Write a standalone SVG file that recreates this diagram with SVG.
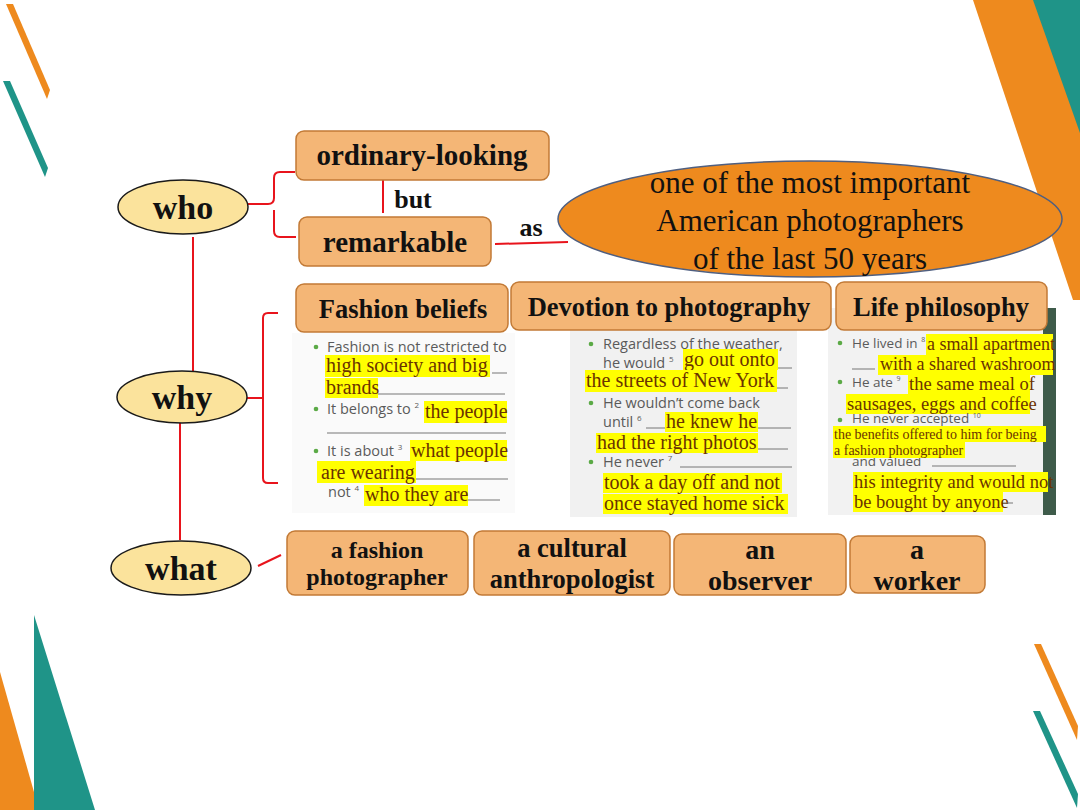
<svg xmlns="http://www.w3.org/2000/svg" width="1080" height="810" viewBox="0 0 1080 810">
<style>
.box{fill:#F4B676;stroke:#C27A36;stroke-width:1.5}
.oval{fill:#FBE39C;stroke:#1a1a1a;stroke-width:1.5}
.bt{font-family:"Liberation Serif",serif;font-weight:bold;fill:#111;text-anchor:middle}
.conn{fill:none;stroke:#E8141C;stroke-width:2}
.ws{font-family:"Open Sans","Noto Sans",sans-serif;font-size:14.5px;fill:#5a5a5a}
.ws2{font-family:"Open Sans","Noto Sans",sans-serif;font-size:13.5px;fill:#5a5a5a}
.hl{fill:#FFFF00}
.ht{font-family:"Liberation Serif",serif;font-size:20px;fill:#6A3300}
.ul{stroke:#777;stroke-width:1}
.dot{fill:#5BAA46}
</style>
<rect width="1080" height="810" fill="#fff"/>
<g id="decor">
<polygon points="6,4 13,4 50,90 47,99" fill="#EE8A1E"/>
<polygon points="3,81 10,81 48,168 45,177" fill="#1F9488"/>
<polygon points="973,0 1080,0 1080,300 1073,300" fill="#EE8A1E"/>
<polygon points="1033,0 1080,0 1080,133" fill="#1F9488"/>
<polygon points="0,672 34,792 34,810 0,810" fill="#EE8A1E"/>
<polygon points="34,615 95,810 34,810" fill="#1F9488"/>
<polygon points="1034,644 1041,644 1078,726 1077,740" fill="#EE8A1E"/>
<polygon points="1033,711 1040,711 1078,794 1077,808" fill="#1F9488"/>
</g>
<g id="connectors">
<path class="conn" d="M193,237 V372"/>
<path class="conn" d="M180,423 V540"/>
<path class="conn" d="M248,204 H268 Q274,204 274,198 V178 Q274,172 280,172 H295 M274,210 V231 Q274,237 280,237 H296"/>
<path class="conn" d="M240,398 H262 M278,313 H268 Q263,313 263,318 V478 Q263,483 268,483 H278"/>
<path class="conn" d="M383,180 V213"/>
<path class="conn" d="M495,244 L568,242"/>
<path class="conn" d="M258,566 L281,555"/>
</g>
<g id="label-but"><text class="bt" x="413" y="208" font-size="26">but</text></g>
<g id="label-as"><text class="bt" x="531" y="236" font-size="26">as</text></g>
<g id="who"><ellipse class="oval" cx="183" cy="207" rx="65" ry="27"/><text class="bt" x="183" y="219" font-size="34">who</text></g>
<g id="why"><ellipse class="oval" cx="182" cy="397" rx="65" ry="26"/><text class="bt" x="182" y="409" font-size="34">why</text></g>
<g id="what"><ellipse class="oval" cx="181" cy="568" rx="70" ry="27"/><text class="bt" x="181" y="580" font-size="34">what</text></g>
<g id="ordinary"><rect class="box" x="296" y="131" width="253" height="49" rx="8"/><text class="bt" x="422" y="165" font-size="29">ordinary-looking</text></g>
<g id="remarkable"><rect class="box" x="299" y="217" width="192" height="49" rx="8"/><text class="bt" x="395" y="252" font-size="29">remarkable</text></g>
<g id="photographers"><ellipse cx="810" cy="219" rx="252" ry="58" fill="#EE8A1E" stroke="#4F5F80" stroke-width="1.5"/>
<text font-family="Liberation Serif,serif" font-size="31" fill="#111" text-anchor="middle"><tspan x="810" y="193">one of the most important</tspan><tspan x="810" y="231">American photographers</tspan><tspan x="810" y="269">of the last 50 years</tspan></text></g>
<g id="panel-fashion">
<rect x="292" y="333" width="223" height="180" fill="#FAFAFA"/>
<circle class="dot" cx="316" cy="347" r="2.3"/><text class="ws" x="327" y="352">Fashion is not restricted to</text>
<rect class="hl" x="325" y="355" width="165" height="22"/><text class="ht" x="326" y="372">high society and big</text>
<line class="ul" x1="492" y1="373" x2="507" y2="373"/>
<rect class="hl" x="325" y="378" width="53" height="20"/><text class="ht" x="326" y="394">brands</text>
<line class="ul" x1="378" y1="394" x2="505" y2="394"/>
<circle class="dot" cx="316" cy="409" r="2.3"/><text class="ws" x="327" y="414">It belongs to <tspan style="font-size:8px" dy="-6">2</tspan></text>
<rect class="hl" x="424" y="401" width="83" height="22"/><text class="ht" x="425" y="418">the people</text>
<line class="ul" x1="327" y1="433" x2="506" y2="433"/>
<circle class="dot" cx="316" cy="451" r="2.3"/><text class="ws" x="327" y="456">It is about <tspan style="font-size:8px" dy="-6">3</tspan></text>
<rect class="hl" x="410" y="440" width="97" height="21"/><text class="ht" x="411" y="457">what people</text>
<rect class="hl" x="317" y="461" width="99" height="22"/><text class="ht" x="321" y="479">are wearing</text>
<line class="ul" x1="416" y1="479" x2="508" y2="479"/>
<text class="ws" x="328" y="497">not <tspan style="font-size:8px" dy="-6">4</tspan></text>
<rect class="hl" x="364" y="485" width="104" height="21"/><text class="ht" x="365" y="501">who they are</text>
<line class="ul" x1="468" y1="500" x2="500" y2="500"/>
</g>
<g id="panel-devotion">
<rect x="570" y="330" width="227" height="187" fill="#F1F1F1"/>
<circle class="dot" cx="591" cy="344" r="2.3"/><text class="ws" x="603" y="349">Regardless of the weather,</text>
<text class="ws" x="603" y="368">he would <tspan style="font-size:8px" dy="-6">5</tspan></text>
<rect class="hl" x="683" y="349" width="95" height="21"/><text class="ht" x="684" y="366">go out onto</text>
<line class="ul" x1="778" y1="368" x2="792" y2="368"/>
<rect class="hl" x="585" y="370" width="192" height="22"/><text class="ht" x="586" y="387">the streets of New York</text>
<line class="ul" x1="777" y1="388" x2="788" y2="388"/>
<circle class="dot" cx="591" cy="403" r="2.3"/><text class="ws" x="603" y="408">He wouldn’t come back</text>
<text class="ws" x="603" y="427">until <tspan style="font-size:8px" dy="-6">6</tspan></text>
<line class="ul" x1="646" y1="428" x2="665" y2="428"/>
<rect class="hl" x="665" y="412" width="93" height="20"/><text class="ht" x="666" y="428">he knew he</text>
<line class="ul" x1="758" y1="428" x2="791" y2="428"/>
<rect class="hl" x="596" y="433" width="162" height="20"/><text class="ht" x="597" y="449">had the right photos</text>
<line class="ul" x1="758" y1="449" x2="788" y2="449"/>
<circle class="dot" cx="591" cy="462" r="2.3"/><text class="ws" x="603" y="467">He never <tspan style="font-size:8px" dy="-6">7</tspan></text>
<line class="ul" x1="680" y1="467" x2="792" y2="467"/>
<rect class="hl" x="603" y="473" width="179" height="20"/><text class="ht" x="604" y="489">took a day off and not</text>
<rect class="hl" x="603" y="494" width="185" height="20"/><text class="ht" x="604" y="510">once stayed home sick</text>
</g>
<g id="panel-life">
<rect x="828" y="308" width="228" height="207" fill="#F2F2F2"/>
<rect x="1043" y="308" width="13" height="207" fill="#3E5B4A"/>
<circle class="dot" cx="840" cy="343" r="2.3"/><text class="ws2" x="852" y="348">He lived in <tspan style="font-size:7px" dy="-6">8</tspan></text>
<rect class="hl" x="926" y="334" width="127" height="21"/><text class="ht" x="927" y="350" style="font-size:18px">a small apartment</text>
<line class="ul" x1="852" y1="369" x2="875" y2="369"/>
<rect class="hl" x="878" y="355" width="175" height="20"/><text class="ht" x="880" y="370" style="font-size:18px">with a shared washroom</text>
<circle class="dot" cx="840" cy="382" r="2.3"/><text class="ws2" x="852" y="387">He ate <tspan style="font-size:7px" dy="-6">9</tspan></text>
<rect class="hl" x="908" y="374" width="122" height="20"/><text class="ht" x="909" y="390" style="font-size:18.5px">the same meal of</text>
<rect class="hl" x="846" y="394" width="184" height="20"/><text class="ht" x="847" y="410" style="font-size:18.5px">sausages, eggs and coffee</text>
<circle class="dot" cx="840" cy="420" r="2.3"/><text class="ws2" x="852" y="423">He never accepted <tspan style="font-size:7px" dy="-5">10</tspan></text>
<text class="ws2" x="852" y="466">and valued</text>
<line class="ul" x1="932" y1="466" x2="1016" y2="466"/>
<rect class="hl" x="833" y="426" width="213" height="16"/><text class="ht" x="834" y="439" style="font-size:14px">the benefits offered to him for  being</text>
<rect class="hl" x="833" y="442" width="132" height="16"/><text class="ht" x="834" y="455" style="font-size:14px">a fashion photographer</text>
<rect class="hl" x="853" y="472" width="195" height="20"/><text class="ht" x="854" y="488" style="font-size:18.5px">his integrity and would not</text>
<rect class="hl" x="853" y="492" width="150" height="20"/><text class="ht" x="854" y="508" style="font-size:18.5px">be bought by anyone</text>
<line class="ul" x1="1003" y1="503" x2="1013" y2="503"/>
</g>
<g id="fashion-beliefs"><rect class="box" x="296" y="284" width="212" height="48" rx="8"/><text class="bt" x="403" y="318" font-size="26.5">Fashion beliefs</text></g>
<g id="devotion"><rect class="box" x="511" y="282" width="320" height="48" rx="8"/><text class="bt" x="669" y="316" font-size="26.5">Devotion to photography</text></g>
<g id="life-philosophy"><rect class="box" x="836" y="282" width="211" height="48" rx="8"/><text class="bt" x="941" y="316" font-size="26.5">Life philosophy</text></g>
<g id="fashion-photographer"><rect class="box" x="287" y="531" width="181" height="64" rx="8"/><text class="bt" font-size="24"><tspan x="377" y="558">a fashion</tspan><tspan x="377" y="585">photographer</tspan></text></g>
<g id="cultural-anthropologist"><rect class="box" x="474" y="531" width="196" height="64" rx="8"/><text class="bt" font-size="26.5"><tspan x="572" y="557">a cultural</tspan><tspan x="572" y="588">anthropologist</tspan></text></g>
<g id="observer"><rect class="box" x="674" y="534" width="172" height="61" rx="8"/><text class="bt" font-size="28"><tspan x="760" y="559">an</tspan><tspan x="760" y="590">observer</tspan></text></g>
<g id="worker"><rect class="box" x="850" y="536" width="135" height="57" rx="8"/><text class="bt" font-size="28"><tspan x="917" y="559">a</tspan><tspan x="917" y="590">worker</tspan></text></g>
</svg>
